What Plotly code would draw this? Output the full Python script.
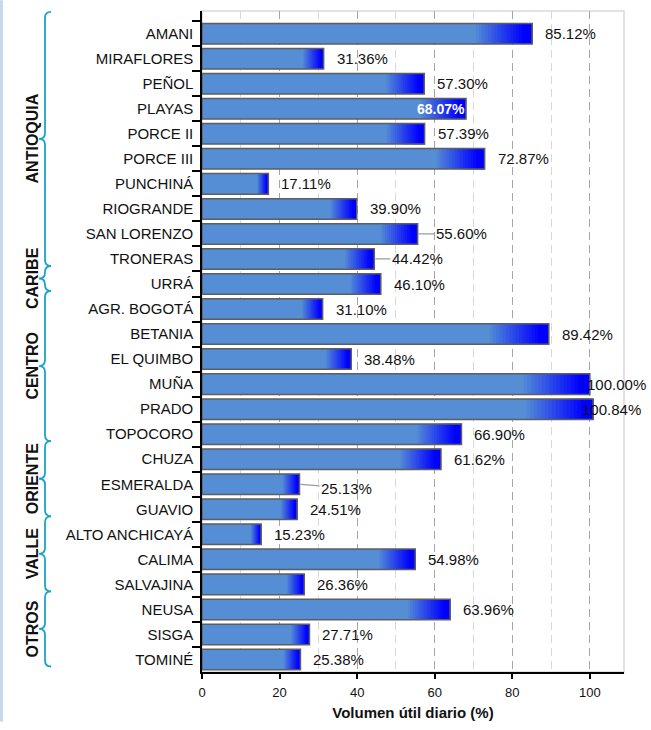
import plotly.graph_objects as go
import numpy as np

# ---------------- data ----------------
categories = ["AMANI", "MIRAFLORES", "PEÑOL", "PLAYAS", "PORCE II", "PORCE III",
              "PUNCHINÁ", "RIOGRANDE", "SAN LORENZO", "TRONERAS", "URRÁ",
              "AGR. BOGOTÁ", "BETANIA", "EL QUIMBO", "MUÑA", "PRADO", "TOPOCORO",
              "CHUZA", "ESMERALDA", "GUAVIO", "ALTO ANCHICAYÁ", "CALIMA",
              "SALVAJINA", "NEUSA", "SISGA", "TOMINÉ"]
values = [85.12, 31.36, 57.30, 68.07, 57.39, 72.87, 17.11, 39.90, 55.60, 44.42,
          46.10, 31.10, 89.42, 38.48, 100.00, 100.84, 66.90, 61.62, 25.13, 24.51,
          15.23, 54.98, 26.36, 63.96, 27.71, 25.38]
group_names = ["ANTIOQUIA", "CARIBE", "CENTRO", "ORIENTE", "VALLE", "OTROS"]
group_sizes = [10, 1, 6, 3, 3, 3]
x_ticks = [0, 20, 40, 60, 80, 100]
x_title = "Volumen útil diario (%)"

# ---------------- style ----------------
FONT = "Liberation Sans, Arial, sans-serif"
W, H = 651, 730
ML, MR, MT, MB = 202, 27, 11, 50
PW, PH = W - ML - MR, H - MT - MB
BRACE_COL = "#1ba3c9"
BASE_RGB = (0x55, 0x8E, 0xD5)
END_RGB = (0x00, 0x00, 0xFF)
TXT = "#111111"
LBL_SIZE = 15
DEFAULT_SHIFT = 11
label_shift = {"MUÑA": -5, "PRADO": -13}
inside_labels = {"PLAYAS"}
leader_labels = {"SAN LORENZO": (44, 0), "TRONERAS": (43, 0), "ESMERALDA": (47, 4)}


def pxx(px):
    return (px - ML) / PW


def pxy(py):
    return (H - MB - py) / PH


fig = go.Figure()

# base bars
fig.add_bar(y=categories, x=values, orientation="h",
            marker=dict(color="rgb(%d,%d,%d)" % BASE_RGB, line_width=0),
            hoverinfo="skip", showlegend=False)
# gradient tail
fracs = np.linspace(0.83, 0.97, 16)
for k, f in enumerate(fracs):
    t = (k + 1) / len(fracs)
    c = tuple(int(round(BASE_RGB[i] + (END_RGB[i] - BASE_RGB[i]) * t)) for i in range(3))
    fig.add_bar(y=categories, x=[v * (1 - f) for v in values],
                base=[v * f for v in values], orientation="h",
                marker=dict(color="rgb(%d,%d,%d)" % c, line_width=0),
                hoverinfo="skip", showlegend=False)
# outline
fig.add_bar(y=categories, x=values, orientation="h",
            marker=dict(color="rgba(0,0,0,0)", line=dict(color="#5e5e5e", width=1.5)),
            hoverinfo="skip", showlegend=False)

annotations = []
for cat, v in zip(categories, values):
    txt = f"{v:.2f}%"
    if cat in inside_labels:
        annotations.append(dict(x=v, y=cat, xref="x", yref="y", text=f"<b>{txt}</b>",
                                showarrow=False, xanchor="right", xshift=1,
                                font=dict(family=FONT, size=14, color="white")))
    elif cat in leader_labels:
        ax, ay = leader_labels[cat]
        annotations.append(dict(x=v, y=cat, xref="x", yref="y", text=txt,
                                showarrow=True, arrowhead=0, arrowwidth=1.2,
                                arrowcolor="#9a9a9a", ax=ax, ay=ay, standoff=1,
                                font=dict(family=FONT, size=LBL_SIZE, color=TXT)))
    else:
        annotations.append(dict(x=v, y=cat, xref="x", yref="y", text=txt,
                                showarrow=False, xanchor="left",
                                xshift=label_shift.get(cat, DEFAULT_SHIFT),
                                font=dict(family=FONT, size=LBL_SIZE, color=TXT)))

# group braces and labels
shapes = []
start = 0
YOFF = -0.22
xe, xb, xc = pxx(51), pxx(45), pxx(39)
r = 0.24
for name, n in zip(group_names, group_sizes):
    yt = start - 0.5 + YOFF - (0.15 if start == 0 else 0)
    yb = start + n - 0.5 + YOFF
    ym = (yt + yb) / 2
    path = (f"M {xe},{yt} Q {xb},{yt} {xb},{yt + r} L {xb},{ym - r} "
            f"Q {xb},{ym} {xc},{ym} Q {xb},{ym} {xb},{ym + r} "
            f"L {xb},{yb - r} Q {xb},{yb} {xe},{yb}")
    shapes.append(dict(type="path", path=path, xref="paper", yref="y",
                       line=dict(color=BRACE_COL, width=1.8)))
    annotations.append(dict(x=pxx(22), y=ym, xref="paper", yref="y",
                            text=f"<b>{name}</b>", textangle=-90, showarrow=False,
                            font=dict(family=FONT, size=16, color=TXT)))
    start += n

# plot frame (light) and left strip
shapes.append(dict(type="rect", xref="paper", yref="paper", x0=0, x1=1, y0=0, y1=1,
                   line=dict(color="#d9d9d9", width=1.5), layer="below"))
shapes.append(dict(type="rect", xref="paper", yref="paper", x0=pxx(0), x1=pxx(3),
                   y0=pxy(H), y1=pxy(0), line_width=0, fillcolor="#c5d8ec"))

fig.update_layout(
    width=W, height=H,
    margin=dict(l=ML, r=MR, t=MT, b=MB),
    paper_bgcolor="white", plot_bgcolor="white",
    barmode="overlay", bargap=0.18,
    showlegend=False,
    shapes=shapes, annotations=annotations,
    font=dict(family=FONT, size=LBL_SIZE, color=TXT),
)
fig.update_yaxes(type="category", autorange="reversed", tickson="boundaries",
                 ticks="outside", ticklen=8, tickwidth=1.5, tickcolor="black",
                 showline=True, linecolor="black", linewidth=1.5,
                 showgrid=False, ticklabelstandoff=4,
                 tickfont=dict(family=FONT, size=LBL_SIZE, color=TXT))
fig.update_xaxes(range=[0, 108.8], tickvals=x_ticks, ticks="outside", ticklen=5,
                 tickwidth=1.5, tickcolor="black", showline=True, linecolor="black",
                 linewidth=1.5, zeroline=False, ticklabelstandoff=3,
                 showgrid=True, gridcolor="#a6a6a6", griddash="8px,5px", gridwidth=1,
                 minor=dict(dtick=10, tick0=0, showgrid=True, gridcolor="#d9d9d9",
                            griddash="8px,5px", gridwidth=1, ticks=""),
                 tickfont=dict(family=FONT, size=13, color=TXT),
                 title=dict(text=f"<b>{x_title}</b>", standoff=8,
                            font=dict(family=FONT, size=15, color=TXT)))

fig.write_html("out.html", config={"displayModeBar": False},
               post_script="document.body.style.margin='0';"
                           "document.body.style.overflow='hidden';")
